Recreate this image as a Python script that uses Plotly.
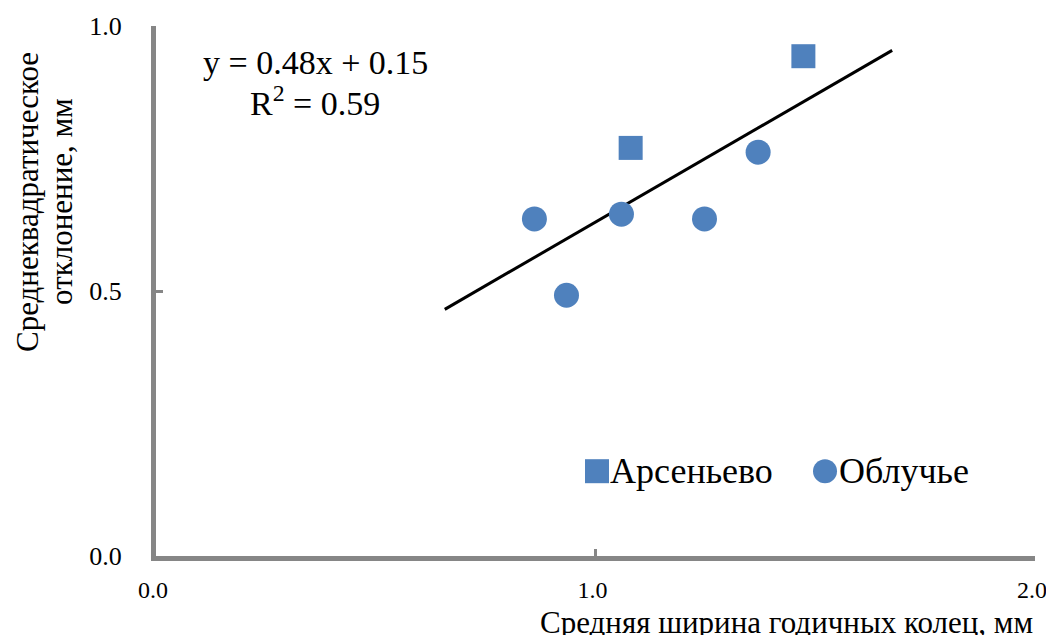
import plotly.graph_objects as go

# Data
ars_x = [1.080, 1.473]
ars_y = [0.770, 0.943]
obl_x = [0.861, 0.934, 1.059, 1.248, 1.370]
obl_y = [0.636, 0.492, 0.645, 0.636, 0.762]
trend_slope = 0.48
trend_intercept = 0.15
trend_x = [0.657, 1.675]
trend_y = [trend_slope * v + trend_intercept for v in trend_x]

series_names = ["Арсеньево", "Облучье"]
x_title = "Средняя ширина годичных колец, мм"
y_title_lines = ["Среднеквадратическое", "отклонение, мм"]
eq_line1 = "y = 0.48x + 0.15"
eq_line2 = "R<sup>2</sup> = 0.59"

FONT = ("'Liberation Serif', 'Times New Roman', Tinos, 'Noto Serif', "
        "'DejaVu Serif', FreeSerif, 'Nimbus Roman', Times, serif")
BLUE = "#4F81BD"
AXIS = "#868686"

fig = go.Figure()
fig.add_trace(go.Scatter(x=trend_x, y=trend_y, mode="lines",
                         line=dict(color="black", width=3), showlegend=False,
                         hoverinfo="skip"))
fig.add_trace(go.Scatter(x=ars_x, y=ars_y, mode="markers", name=series_names[0],
                         showlegend=False,
                         marker=dict(symbol="square", size=24, color=BLUE)))
fig.add_trace(go.Scatter(x=obl_x, y=obl_y, mode="markers", name=series_names[1],
                         showlegend=False,
                         marker=dict(symbol="circle", size=25, color=BLUE)))

axis_common = dict(showgrid=False, zeroline=False, showline=True, linecolor=AXIS,
                   linewidth=5, ticks="inside", ticklen=7, tickwidth=3,
                   tickcolor=AXIS, tickformat=".1f", automargin=False,
                   ticklabeloverflow="allow")

fig.update_xaxes(range=[0, 2], dtick=1, tick0=0, ticklabelstandoff=8, ticklabelshift=-3,
                 tickfont=dict(family=FONT, size=24, color="black"), **axis_common)
fig.update_yaxes(range=[0, 1], dtick=0.5, tick0=0, ticklabelstandoff=24,
                 tickfont=dict(family=FONT, size=26, color="black"), **axis_common)

# Y axis title (two lines, rotated)
for txt, xs in zip(y_title_lines, [-128, -94]):
    fig.add_annotation(text=txt, xref="paper", yref="paper", x=0, y=0.668,
                       xanchor="center", yanchor="middle", xshift=xs, textangle=-90,
                       showarrow=False, font=dict(family=FONT, size=31, color="black"))
fig.add_annotation(text=x_title, xref="paper", yref="paper", x=1, y=0,
                   xanchor="right", yanchor="top", yshift=-47, xshift=0,
                   showarrow=False, font=dict(family=FONT, size=31, color="black"))
fig.add_annotation(text=eq_line1, xref="paper", yref="paper", x=0.181, y=0.932,
                   xanchor="center", yanchor="middle", showarrow=False,
                   font=dict(family=FONT, size=34, color="black"))
fig.add_annotation(text=eq_line2, xref="paper", yref="paper", x=0.181, y=0.858,
                   xanchor="center", yanchor="middle", showarrow=False,
                   font=dict(family=FONT, size=34, color="black"))

# Legend (drawn manually to get Excel-sized symbols)
leg_y = 0.160
leg_items = [("square", 0.5017, 0.5188, series_names[0]),
             ("circle", 0.7611, 0.7793, series_names[1])]
for sym, cx, tx, label in leg_items:
    fig.add_shape(type="rect" if sym == "square" else "circle",
                  xref="paper", yref="paper", xsizemode="pixel", ysizemode="pixel",
                  xanchor=cx, yanchor=leg_y, x0=-12, x1=12, y0=-12, y1=12,
                  fillcolor=BLUE, line=dict(width=0))
    fig.add_annotation(text=label, xref="paper", yref="paper", x=tx, y=leg_y,
                       xanchor="left", yanchor="middle", xshift=-4, showarrow=False,
                       font=dict(family=FONT, size=36, color="black"))

fig.update_layout(
    template="none",
    width=1046, height=627,
    margin=dict(l=148, r=19, t=18, b=79),
    paper_bgcolor="white", plot_bgcolor="white",
    font=dict(family=FONT, color="black"),
    showlegend=False,
)

fig.write_html("out.html")
